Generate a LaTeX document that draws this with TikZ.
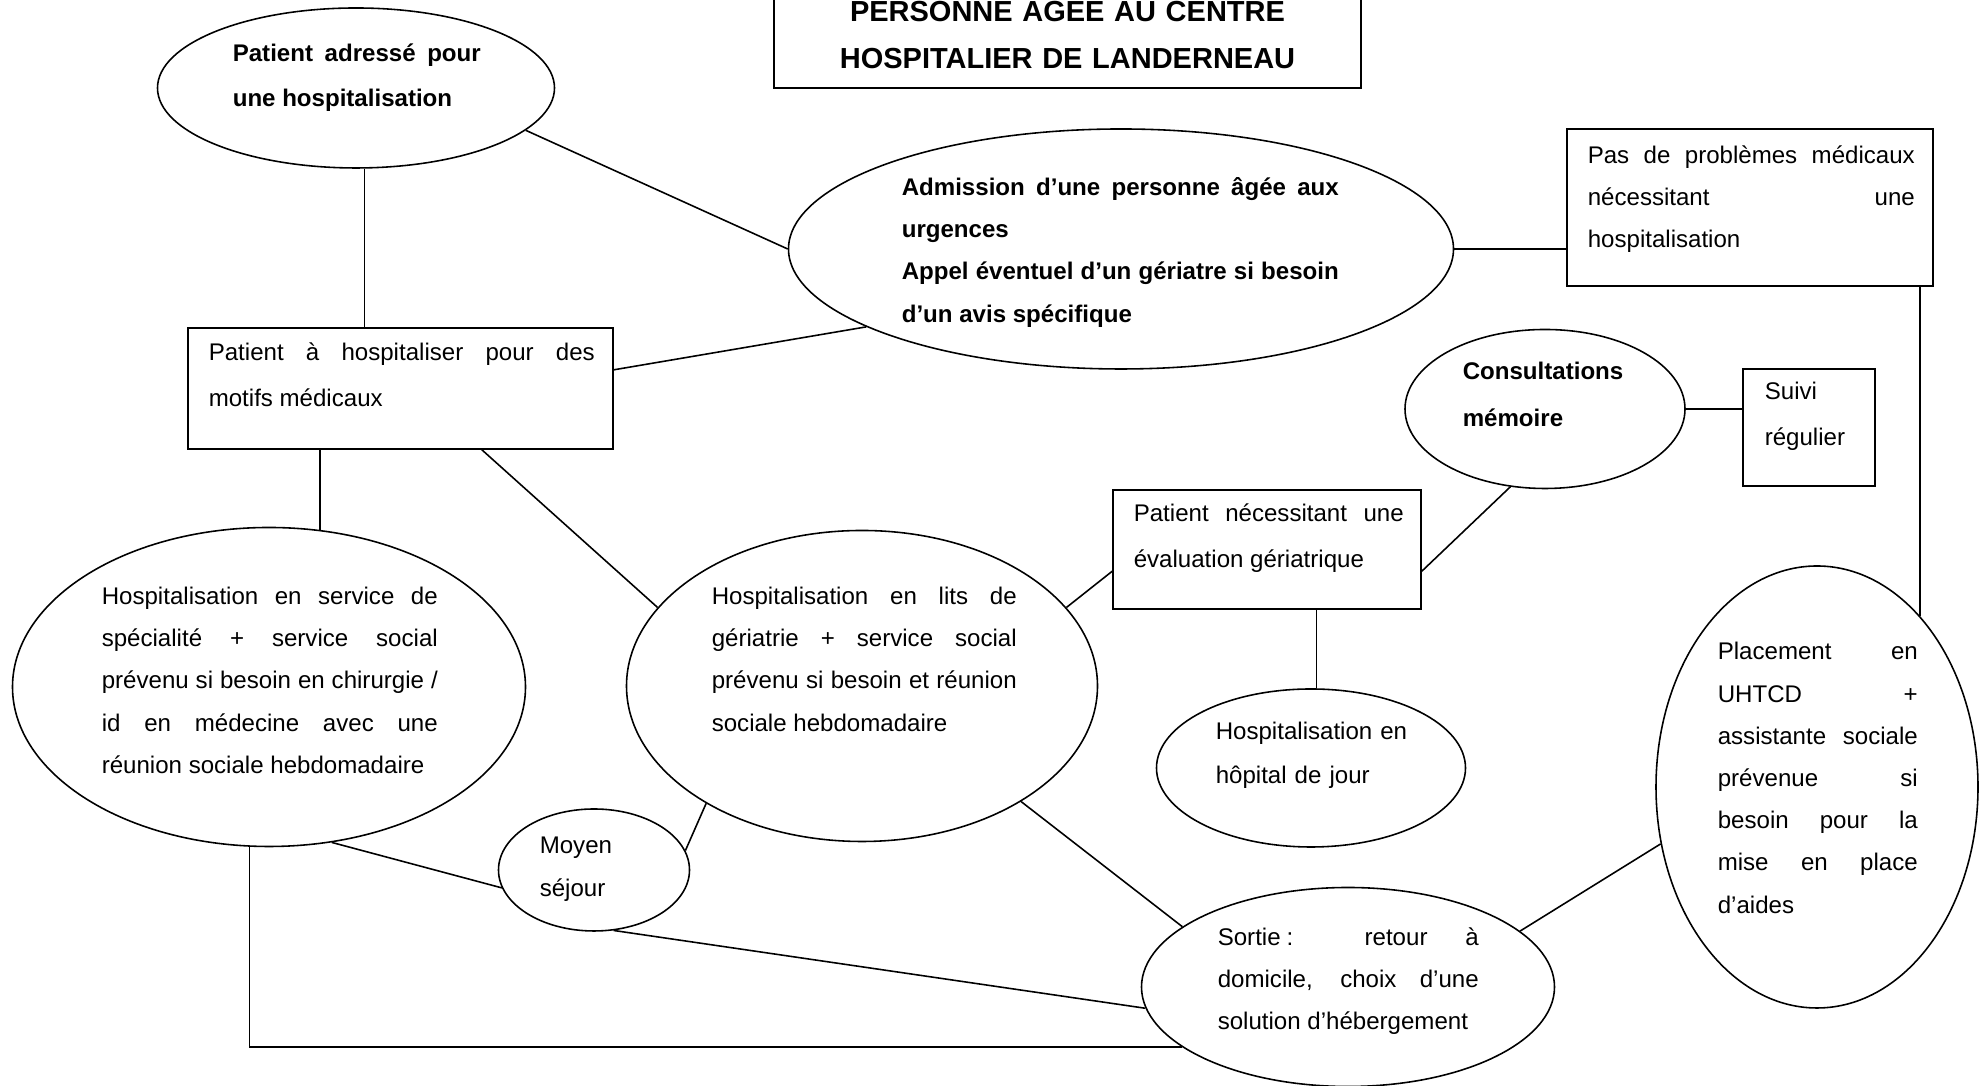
\documentclass[tikz,border=0pt]{standalone}
\usepackage{fontspec}
\setmainfont{Liberation Sans}
\usetikzlibrary{shapes.geometric}

\tikzset{
  bulle/.style={ellipse, draw, inner sep=0pt},
  cadre/.style={rectangle, draw, inner sep=0pt},
  texte/.style={anchor=base west, inner sep=0pt, align=justify,
    font=\fontsize{13.7}{24}\selectfont},
  aere/.style={font=\fontsize{13.7}{26}\selectfont},
  gras/.style={font=\fontsize{13.7}{24}\selectfont\bfseries},
}

\begin{document}
\begin{tikzpicture}[line width=0.9pt]
    \useasboundingbox (0,0) rectangle (39.62,21.72);

    % formes
    \node[cadre, minimum width=11.74cm, minimum height=2.76cm] (titre) at (21.35, 21.34) {};
    \node[bulle, minimum width=7.94cm, minimum height=3.20cm] (adresse) at (7.12, 19.96) {};
    \node[bulle, minimum width=13.30cm, minimum height=4.80cm] (admission) at (22.42, 16.74) {};
    \node[cadre, minimum width=7.32cm, minimum height=3.14cm] (pasmed) at (35.00, 17.57) {};
    \node[cadre, minimum width=8.50cm, minimum height=2.42cm] (hospit) at (8.01, 13.95) {};
    \node[bulle, minimum width=5.60cm, minimum height=3.18cm] (memoire) at (30.90, 13.54) {};
    \node[cadre, minimum width=2.64cm, minimum height=2.34cm] (suivi) at (36.18, 13.17) {};
    \node[cadre, minimum width=6.16cm, minimum height=2.38cm] (evalger) at (25.34, 10.73) {};
    \node[bulle, minimum width=10.26cm, minimum height=6.38cm] (specialite) at (5.38, 7.98) {};
    \node[bulle, minimum width=9.42cm, minimum height=6.22cm] (geriatrie) at (17.24, 8.00) {};
    \node[bulle, minimum width=6.18cm, minimum height=3.16cm] (hdj) at (26.22, 6.36) {};
    \node[bulle, minimum width=6.44cm, minimum height=8.84cm] (uhtcd) at (36.34, 5.98) {};
    \node[bulle, minimum width=3.82cm, minimum height=2.44cm] (moyen) at (11.88, 4.32) {};
    \node[bulle, minimum width=8.26cm, minimum height=3.98cm] (sortie) at (26.96, 1.98) {};

    % textes
    \node[anchor=base, inner sep=0pt, text width=11.5cm, align=center,
      font=\fontsize{16.5}{26.5}\selectfont\bfseries] (titre-t) at (21.35, 21.28)
      {PERSONNE AGEE AU CENTRE\\HOSPITALIER DE LANDERNEAU};
    \node[texte, font=\fontsize{13.7}{25.6}\selectfont\bfseries, text width=4.96cm] (adresse-t) at (4.64, 20.48)
      {Patient adressé pour\linebreak une hospitalisation};
    \node[texte, gras, text width=8.74cm] (admission-t) at (18.02, 17.81)
      {Admission d’une personne âgée aux\linebreak urgences\par
       Appel éventuel d’un gériatre si besoin\linebreak d’un avis spécifique};
    \node[texte, text width=6.54cm] (pasmed-t) at (31.74, 18.45)
      {Pas de problèmes médicaux\linebreak nécessitant une\linebreak hospitalisation};
    \node[texte, aere, text width=7.72cm] (hospit-t) at (4.16, 14.51)
      {Patient à hospitaliser pour des\linebreak motifs médicaux};
    \node[texte, font=\fontsize{13.7}{26.2}\selectfont\bfseries, align=left, text width=3.3cm] (memoire-t) at (29.24, 14.12)
      {Consultations\\mémoire};
    \node[texte, aere, align=left, text width=2.0cm] (suivi-t) at (35.28, 13.72)
      {Suivi\\régulier};
    \node[texte, aere, text width=5.40cm] (evalger-t) at (22.66, 11.29)
      {Patient nécessitant une\linebreak évaluation gériatrique};
    \node[texte, text width=6.72cm] (specialite-t) at (2.02, 9.63)
      {Hospitalisation en service de\linebreak spécialité + service social\linebreak
       prévenu si besoin en chirurgie /\linebreak id en médecine avec une\linebreak
       réunion sociale hebdomadaire};
    \node[texte, text width=6.10cm] (geriatrie-t) at (14.22, 9.63)
      {Hospitalisation en lits de\linebreak gériatrie + service social\linebreak
       prévenu si besoin et réunion\linebreak sociale hebdomadaire};
    \node[texte, font=\fontsize{13.7}{25}\selectfont, align=left, text width=4.3cm] (hdj-t) at (24.30, 6.92)
      {Hospitalisation en\\hôpital de jour};
    \node[texte, text width=4.00cm] (uhtcd-t) at (34.34, 8.52)
      {Placement en\linebreak UHTCD +\linebreak assistante sociale\linebreak
       prévenue si\linebreak besoin pour la\linebreak mise en place\linebreak d’aides};
    \node[texte, align=left, text width=1.8cm] (moyen-t) at (10.78, 4.64)
      {Moyen\\séjour};
    \node[texte, text width=5.22cm] (sortie-t) at (24.34, 2.81)
      {Sortie\hspace{0.25em}: retour à\linebreak domicile, choix d’une\linebreak solution d’hébergement};

    % liens
    \draw (adresse.-84) -- (adresse.-84 |- hospit.north);
    \draw (adresse.-14) -- (admission.west);
    \draw (hospit.5) -- (admission.197);
    \draw (admission.east) -- (admission.east -| pasmed.west);
    \draw (uhtcd.59) -- (uhtcd.59 |- pasmed.south);
    \draw (specialite.72) -- (specialite.72 |- hospit.south);
    \draw (hospit.-37) -- (geriatrie.159);
    \draw (geriatrie.21) -- (evalger.188);
    \draw (evalger.-8) -- (memoire.246);
    \draw (memoire.east) -- (memoire.east -| suivi.west);
    \draw (hdj.86) -- (hdj.86 |- evalger.south);
    \draw (specialite.-68) -- (moyen.191);
    \draw (moyen.12) -- (geriatrie.217);
    \draw (moyen.-72) -- (sortie.186);
    \draw (geriatrie.-36) -- (sortie.160);
    \draw (specialite.-97) |- (sortie.200);
    \draw (sortie.18) -- (uhtcd.200);
\end{tikzpicture}
\end{document}
